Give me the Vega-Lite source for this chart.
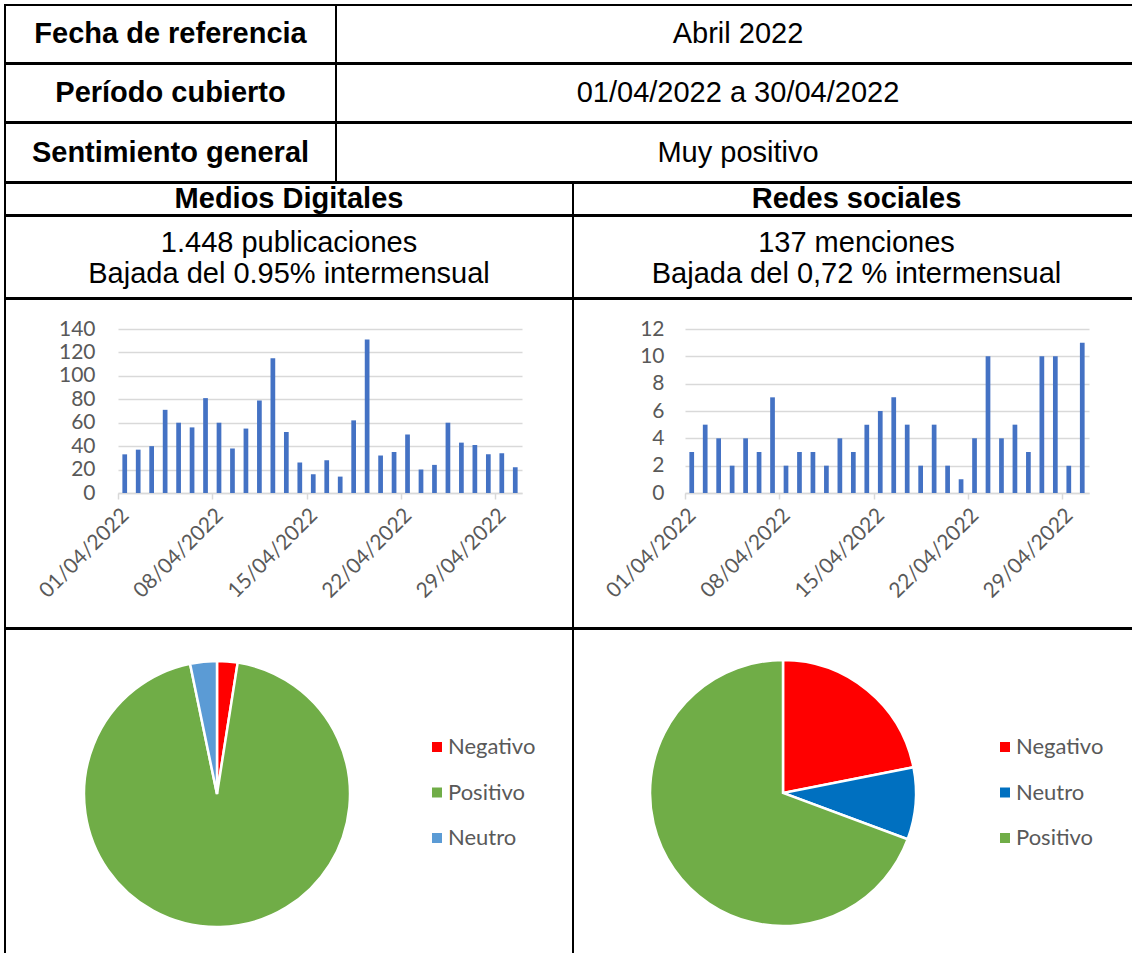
{
  "$schema": "https://vega.github.io/schema/vega-lite/v6.json",
  "padding": {"left": 4, "top": 4, "right": 0, "bottom": 0},
  "spacing": -2,
  "config": {
    "view": {"stroke": "black", "strokeWidth": 2},
    "font": "Liberation Sans"
  },
  "resolve": {"scale": {"x": "independent", "y": "independent", "color": "independent", "theta": "independent"}},
  "vconcat": [
    {
      "hconcat": [
        {"width": 331, "height": 58, "data": {"values": [{"texto": "Fecha de referencia"}]},
         "layer": [
           {"mark": {"type": "rect", "fill": "white", "stroke": "black", "strokeWidth": 2}, "encoding": {}},
           {"mark": {"type": "text", "fontWeight": "bold", "fontSize": 29, "color": "black"}, "encoding": {"text": {"field": "texto"}}}
         ]},
        {"width": 804, "height": 58, "data": {"values": [{"texto": "Abril 2022"}]},
         "layer": [
           {"mark": {"type": "rect", "fill": "white", "stroke": "black", "strokeWidth": 2}, "encoding": {}},
           {"mark": {"type": "text", "fontSize": 29, "color": "black"}, "encoding": {"text": {"field": "texto"}}}
         ]}
      ],
      "spacing": 0, "bounds": "flush"
    },
    {
      "hconcat": [
        {"width": 331, "height": 58, "data": {"values": [{"texto": "Período cubierto"}]},
         "layer": [
           {"mark": {"type": "rect", "fill": "white", "stroke": "black", "strokeWidth": 2}, "encoding": {}},
           {"mark": {"type": "text", "fontWeight": "bold", "fontSize": 29, "color": "black"}, "encoding": {"text": {"field": "texto"}}}
         ]},
        {"width": 804, "height": 58, "data": {"values": [{"texto": "01/04/2022 a 30/04/2022"}]},
         "layer": [
           {"mark": {"type": "rect", "fill": "white", "stroke": "black", "strokeWidth": 2}, "encoding": {}},
           {"mark": {"type": "text", "fontSize": 29, "color": "black"}, "encoding": {"text": {"field": "texto"}}}
         ]}
      ],
      "spacing": 0, "bounds": "flush"
    },
    {
      "hconcat": [
        {"width": 331, "height": 59, "data": {"values": [{"texto": "Sentimiento general"}]},
         "layer": [
           {"mark": {"type": "rect", "fill": "white", "stroke": "black", "strokeWidth": 2}, "encoding": {}},
           {"mark": {"type": "text", "fontWeight": "bold", "fontSize": 29, "color": "black"}, "encoding": {"text": {"field": "texto"}}}
         ]},
        {"width": 804, "height": 59, "data": {"values": [{"texto": "Muy positivo"}]},
         "layer": [
           {"mark": {"type": "rect", "fill": "white", "stroke": "black", "strokeWidth": 2}, "encoding": {}},
           {"mark": {"type": "text", "fontSize": 29, "color": "black"}, "encoding": {"text": {"field": "texto"}}}
         ]}
      ],
      "spacing": 0, "bounds": "flush"
    },
    {
      "hconcat": [
        {"width": 568, "height": 32, "data": {"values": [{"texto": "Medios Digitales"}]},
         "layer": [
           {"mark": {"type": "rect", "fill": "white", "stroke": "black", "strokeWidth": 2}, "encoding": {}},
           {"mark": {"type": "text", "fontWeight": "bold", "fontSize": 29, "color": "black"}, "encoding": {"text": {"field": "texto"}}}
         ]},
        {"width": 567, "height": 32, "data": {"values": [{"texto": "Redes sociales"}]},
         "layer": [
           {"mark": {"type": "rect", "fill": "white", "stroke": "black", "strokeWidth": 2}, "encoding": {}},
           {"mark": {"type": "text", "fontWeight": "bold", "fontSize": 29, "color": "black"}, "encoding": {"text": {"field": "texto"}}}
         ]}
      ],
      "spacing": 0, "bounds": "flush"
    },
    {
      "hconcat": [
        {"width": 568, "height": 82, "data": {"values": [{"texto": "1.448 publicaciones\nBajada del 0.95% intermensual"}]},
         "layer": [
           {"mark": {"type": "rect", "fill": "white", "stroke": "black", "strokeWidth": 2}, "encoding": {}},
           {"mark": {"type": "text", "fontSize": 29, "color": "black", "lineBreak": "\n", "lineHeight": 31, "dy": -14.5}, "encoding": {"text": {"field": "texto"}}}
         ]},
        {"width": 567, "height": 82, "data": {"values": [{"texto": "137 menciones\nBajada del 0,72 % intermensual"}]},
         "layer": [
           {"mark": {"type": "rect", "fill": "white", "stroke": "black", "strokeWidth": 2}, "encoding": {}},
           {"mark": {"type": "text", "fontSize": 29, "color": "black", "lineBreak": "\n", "lineHeight": 31, "dy": -14.5}, "encoding": {"text": {"field": "texto"}}}
         ]}
      ],
      "spacing": 0, "bounds": "flush"
    },
    {
      "hconcat": [
        {
          "width": 568, "height": 329,
          "data": {"values": [
            {"fecha": "01/04/2022", "publicaciones": 33},
            {"fecha": "02/04/2022", "publicaciones": 37},
            {"fecha": "03/04/2022", "publicaciones": 40},
            {"fecha": "04/04/2022", "publicaciones": 71},
            {"fecha": "05/04/2022", "publicaciones": 60},
            {"fecha": "06/04/2022", "publicaciones": 56},
            {"fecha": "07/04/2022", "publicaciones": 81},
            {"fecha": "08/04/2022", "publicaciones": 60},
            {"fecha": "09/04/2022", "publicaciones": 38},
            {"fecha": "10/04/2022", "publicaciones": 55},
            {"fecha": "11/04/2022", "publicaciones": 79},
            {"fecha": "12/04/2022", "publicaciones": 115},
            {"fecha": "13/04/2022", "publicaciones": 52},
            {"fecha": "14/04/2022", "publicaciones": 26},
            {"fecha": "15/04/2022", "publicaciones": 16},
            {"fecha": "16/04/2022", "publicaciones": 28},
            {"fecha": "17/04/2022", "publicaciones": 14},
            {"fecha": "18/04/2022", "publicaciones": 62},
            {"fecha": "19/04/2022", "publicaciones": 131},
            {"fecha": "20/04/2022", "publicaciones": 32},
            {"fecha": "21/04/2022", "publicaciones": 35},
            {"fecha": "22/04/2022", "publicaciones": 50},
            {"fecha": "23/04/2022", "publicaciones": 20},
            {"fecha": "24/04/2022", "publicaciones": 24},
            {"fecha": "25/04/2022", "publicaciones": 60},
            {"fecha": "26/04/2022", "publicaciones": 43},
            {"fecha": "27/04/2022", "publicaciones": 41},
            {"fecha": "28/04/2022", "publicaciones": 33},
            {"fecha": "29/04/2022", "publicaciones": 34},
            {"fecha": "30/04/2022", "publicaciones": 22}
          ]},
          "mark": {"type": "bar", "color": "#4472C4"},
          "encoding": {
            "x": {"field": "fecha", "type": "ordinal", "sort": null,
                  "scale": {"range": [113, 517], "paddingInner": 0.65, "paddingOuter": 0.325},
                  "axis": {"values": ["01/04/2022", "08/04/2022", "15/04/2022", "22/04/2022", "29/04/2022"],
                           "title": null, "orient": "bottom", "offset": -135, "bandPosition": 0, "tickOffset": -4.4,
                           "labelAngle": -45, "labelAlign": "right", "labelBaseline": "middle", "labelOffset": 5, "labelPadding": 13,
                           "labelFont": "Lato", "labelFontSize": 21, "labelColor": "#595959",
                           "domainColor": "#d9d9d9", "domainWidth": 1.5, "tickColor": "#d9d9d9", "tickWidth": 1.5, "tickSize": 6, "grid": false}},
            "y": {"field": "publicaciones", "type": "quantitative",
                  "scale": {"domain": [0, 140], "range": [194, 30], "nice": false},
                  "axis": {"values": [0, 20, 40, 60, 80, 100, 120, 140], "title": null, "offset": -113,
                           "domain": false, "ticks": false, "labelPadding": 23,
                           "labelFont": "Lato", "labelFontSize": 21, "labelColor": "#595959",
                           "grid": true, "gridColor": "#d9d9d9", "gridWidth": 1.5}}
          }
        },
        {
          "width": 567, "height": 329,
          "data": {"values": [
            {"fecha": "01/04/2022", "menciones": 3},
            {"fecha": "02/04/2022", "menciones": 5},
            {"fecha": "03/04/2022", "menciones": 4},
            {"fecha": "04/04/2022", "menciones": 2},
            {"fecha": "05/04/2022", "menciones": 4},
            {"fecha": "06/04/2022", "menciones": 3},
            {"fecha": "07/04/2022", "menciones": 7},
            {"fecha": "08/04/2022", "menciones": 2},
            {"fecha": "09/04/2022", "menciones": 3},
            {"fecha": "10/04/2022", "menciones": 3},
            {"fecha": "11/04/2022", "menciones": 2},
            {"fecha": "12/04/2022", "menciones": 4},
            {"fecha": "13/04/2022", "menciones": 3},
            {"fecha": "14/04/2022", "menciones": 5},
            {"fecha": "15/04/2022", "menciones": 6},
            {"fecha": "16/04/2022", "menciones": 7},
            {"fecha": "17/04/2022", "menciones": 5},
            {"fecha": "18/04/2022", "menciones": 2},
            {"fecha": "19/04/2022", "menciones": 5},
            {"fecha": "20/04/2022", "menciones": 2},
            {"fecha": "21/04/2022", "menciones": 1},
            {"fecha": "22/04/2022", "menciones": 4},
            {"fecha": "23/04/2022", "menciones": 10},
            {"fecha": "24/04/2022", "menciones": 4},
            {"fecha": "25/04/2022", "menciones": 5},
            {"fecha": "26/04/2022", "menciones": 3},
            {"fecha": "27/04/2022", "menciones": 10},
            {"fecha": "28/04/2022", "menciones": 10},
            {"fecha": "29/04/2022", "menciones": 2},
            {"fecha": "30/04/2022", "menciones": 11}
          ]},
          "mark": {"type": "bar", "color": "#4472C4"},
          "encoding": {
            "x": {"field": "fecha", "type": "ordinal", "sort": null,
                  "scale": {"range": [112, 516], "paddingInner": 0.65, "paddingOuter": 0.325},
                  "axis": {"values": ["01/04/2022", "08/04/2022", "15/04/2022", "22/04/2022", "29/04/2022"],
                           "title": null, "orient": "bottom", "offset": -135, "bandPosition": 0, "tickOffset": -4.4,
                           "labelAngle": -45, "labelAlign": "right", "labelBaseline": "middle", "labelOffset": 5, "labelPadding": 13,
                           "labelFont": "Lato", "labelFontSize": 21, "labelColor": "#595959",
                           "domainColor": "#d9d9d9", "domainWidth": 1.5, "tickColor": "#d9d9d9", "tickWidth": 1.5, "tickSize": 6, "grid": false}},
            "y": {"field": "menciones", "type": "quantitative",
                  "scale": {"domain": [0, 12], "range": [194, 30], "nice": false},
                  "axis": {"values": [0, 2, 4, 6, 8, 10, 12], "title": null, "offset": -112,
                           "domain": false, "ticks": false, "labelPadding": 21,
                           "labelFont": "Lato", "labelFontSize": 21, "labelColor": "#595959",
                           "grid": true, "gridColor": "#d9d9d9", "gridWidth": 1.5}}
          }
        }
      ],
      "spacing": 0, "bounds": "flush",
      "resolve": {"scale": {"x": "independent", "y": "independent"}}
    },
    {
      "hconcat": [
        {
          "width": 568, "height": 345,
          "data": {"values": [
            {"sentimiento": "Negativo", "cantidad": 36, "orden": 1},
            {"sentimiento": "Positivo", "cantidad": 1365, "orden": 2},
            {"sentimiento": "Neutro", "cantidad": 47, "orden": 3}
          ]},
          "mark": {"type": "arc", "outerRadius": 133, "stroke": "white", "strokeWidth": 2.5},
          "encoding": {
            "theta": {"field": "cantidad", "type": "quantitative", "stack": true},
            "order": {"field": "orden", "type": "quantitative"},
            "color": {"field": "sentimiento", "type": "nominal",
                      "scale": {"domain": ["Negativo", "Positivo", "Neutro"], "range": ["#FF0000", "#70AD47", "#5B9BD5"]},
                      "legend": {"title": null, "orient": "none", "legendX": 421, "legendY": 107,
                                 "symbolType": "square", "symbolSize": 100, "symbolStrokeWidth": 0,
                                 "labelFont": "Lato", "labelFontSize": 22, "labelColor": "#595959",
                                 "rowPadding": 23.5, "labelOffset": 0}},
            "x": {"value": 212},
            "y": {"value": 165}
          }
        },
        {
          "width": 567, "height": 345,
          "data": {"values": [
            {"sentimiento": "Negativo", "cantidad": 30, "orden": 1},
            {"sentimiento": "Neutro", "cantidad": 12, "orden": 2},
            {"sentimiento": "Positivo", "cantidad": 95, "orden": 3}
          ]},
          "mark": {"type": "arc", "outerRadius": 133, "stroke": "white", "strokeWidth": 2.5},
          "encoding": {
            "theta": {"field": "cantidad", "type": "quantitative", "stack": true},
            "order": {"field": "orden", "type": "quantitative"},
            "color": {"field": "sentimiento", "type": "nominal",
                      "scale": {"domain": ["Negativo", "Neutro", "Positivo"], "range": ["#FF0000", "#0070C0", "#70AD47"]},
                      "legend": {"title": null, "orient": "none", "legendX": 421, "legendY": 107,
                                 "symbolType": "square", "symbolSize": 100, "symbolStrokeWidth": 0,
                                 "labelFont": "Lato", "labelFontSize": 22, "labelColor": "#595959",
                                 "rowPadding": 23.5, "labelOffset": 0}},
            "x": {"value": 210},
            "y": {"value": 164}
          }
        }
      ],
      "spacing": 0, "bounds": "flush",
      "resolve": {"scale": {"color": "independent", "theta": "independent"}, "legend": {"color": "independent"}}
    }
  ]
}
